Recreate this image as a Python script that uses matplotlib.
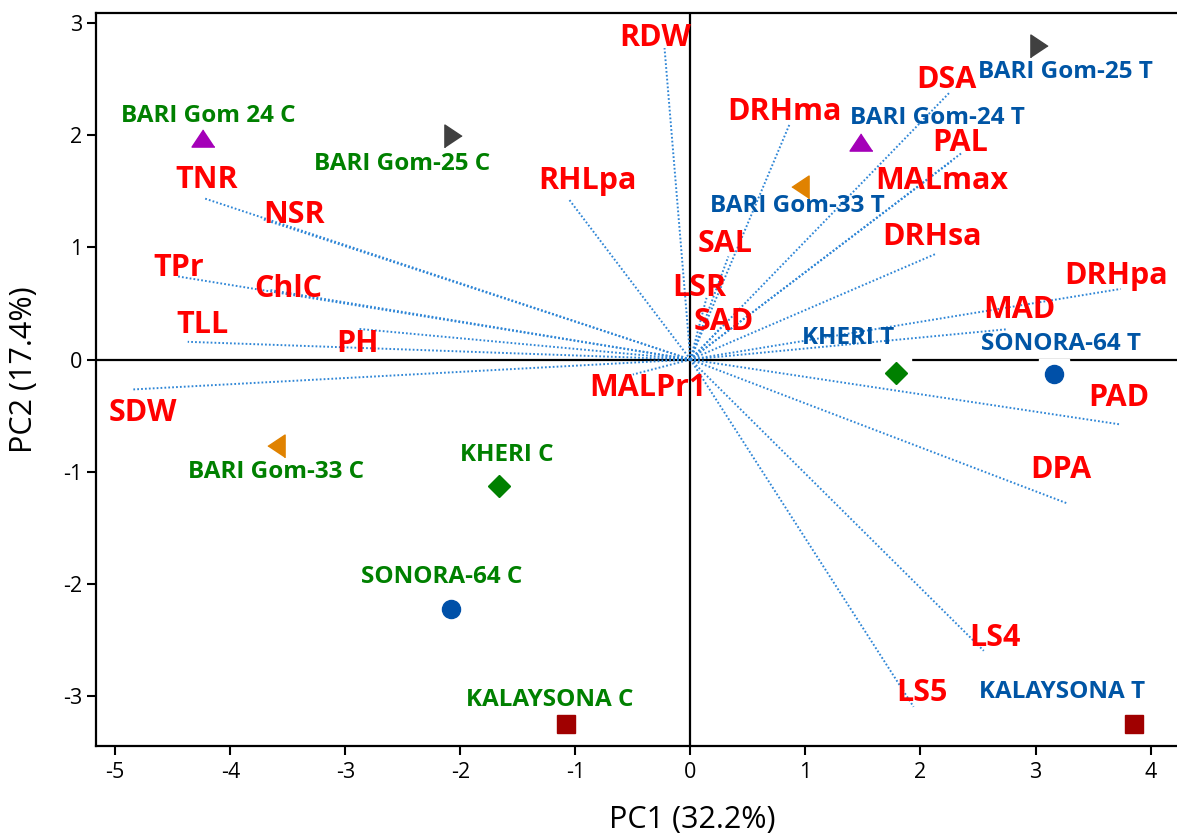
import matplotlib
matplotlib.use("Agg")
import matplotlib.pyplot as plt

plt.rcParams['font.family'] = ['Open Sans', 'DejaVu Sans']
plt.rcParams['axes.unicode_minus'] = False

# Scores of the genotypes (C = control, T = treatment)
obs_names = ["BARI Gom 24 C", "BARI Gom-25 C", "BARI Gom-33 C", "KHERI C",
             "SONORA-64 C", "KALAYSONA C",
             "BARI Gom-24 T", "BARI Gom-25 T", "BARI Gom-33 T", "KHERI T",
             "SONORA-64 T", "KALAYSONA T"]
obs_pc1 = [-4.24, -2.06, -3.60, -1.66, -2.08, -1.08,
           1.48, 3.03, 0.95, 1.79, 3.16, 3.86]
obs_pc2 = [1.975, 1.995, -0.77, -1.127, -2.23, -3.25,
           1.945, 2.80, 1.54, -0.118, -0.132, -3.25]
obs_genotype = ["Gom24", "Gom25", "Gom33", "KHERI", "SONORA", "KALAYSONA",
                "Gom24", "Gom25", "Gom33", "KHERI", "SONORA", "KALAYSONA"]

# Loadings of the traits
var_names = ["TNR", "NSR", "TPr", "ChlC", "TLL", "PH", "SDW", "RHLpa", "RDW",
             "DRHma", "DSA", "PAL", "MALmax", "DRHsa", "DRHpa", "MAD", "PAD",
             "DPA", "LS4", "LS5", "MALPr1", "SAL", "LSR", "SAD"]
var_pc1 = [-4.23, -3.71, -4.47, -3.65, -4.37, -2.89, -4.86, -1.06, -0.225,
           0.866, 2.25, 2.36, 2.27, 2.14, 3.74, 2.75, 3.74,
           3.28, 2.55, 1.94, -0.50, 0.33, 0.14, 0.28]
var_pc2 = [1.44, 1.25, 0.744, 0.62, 0.158, 0.274, -0.268, 1.435, 2.78,
           2.11, 2.38, 1.845, 1.77, 0.946, 0.63, 0.27, -0.58,
           -1.286, -2.60, -3.10, -0.134, 0.92, 0.55, 0.30]

# marker style per genotype
tri_up = [(0, 0.75), (-1, -0.75), (1, -0.75)]
tri_right = [(0.75, 0), (-0.75, 1), (-0.75, -1)]
tri_left = [(-0.75, 0), (0.75, 1), (0.75, -1)]
styles = {
    "Gom24": dict(marker=tri_up, color="#A400B8", ms=16.5),
    "Gom25": dict(marker=tri_right, color="#404040", ms=16.5),
    "Gom33": dict(marker=tri_left, color="#E08200", ms=16.5),
    "KHERI": dict(marker="D", color="#008000", ms=11),
    "SONORA": dict(marker="o", color="#0050A8", ms=13),
    "KALAYSONA": dict(marker="s", color="#A00000", ms=13),
}

# label offsets in points (x right, y up)
obs_offsets = [(4, 16), (-37, -20), (0, -19), (5, 22), (-7, 23), (-12, 17),
               (55, 17), (19, -19), (-2, -14), (-35, 25), (5, 22), (-52, 23)]
var_offsets = {
    "TNR": (2, 13), "NSR": (22, 3), "TPr": (2, 6), "ChlC": (13, 1),
    "TLL": (11, 12), "PH": (0, -11), "SDW": (8, -17), "RHLpa": (14, 13),
    "RDW": (-7, 7), "DRHma": (-4, 8), "DSA": (-2, 9), "PAL": (-1, 7),
    "MALmax": (-7, -14), "DRHsa": (-3, 12), "DRHpa": (-3, 9), "MAD": (9, 14),
    "PAD": (-1, 19), "DPA": (-5, 24), "LS4": (8, 9), "LS5": (6, 10),
    "MALPr1": (11, -10), "SAL": (-2, 9), "LSR": (-5, 7), "SAD": (1, 3),
}

fig = plt.figure(figsize=(11.77, 8.34), dpi=100)
ax = fig.add_axes([0.0813, 0.1055, 0.9187, 0.8785])

# zero reference lines
ax.axhline(0, color="black", lw=1.6, zorder=1)
ax.axvline(0, color="black", lw=1.6, zorder=1)

# loading vectors
for name, x, y in zip(var_names, var_pc1, var_pc2):
    ax.plot([0, x], [0, y], color="#2F86D6", lw=1.4,
            linestyle=(0, (0.9, 1.1)), zorder=2)
    ax.annotate(name, (x, y), xytext=var_offsets[name],
                textcoords="offset points", ha="center", va="center",
                color="#FF0000", fontsize=22, fontweight="bold", zorder=5)

# genotype scores
for name, x, y, g, off in zip(obs_names, obs_pc1, obs_pc2, obs_genotype,
                              obs_offsets):
    st = styles[g]
    ax.plot(x, y, marker="s", ms=21, color="white", ls="none", zorder=1.5)
    ax.plot(x, y, marker=st["marker"], ms=st["ms"], color=st["color"],
            ls="none", zorder=4)
    txt_color = "#008000" if name.endswith(" C") else "#0055A5"
    ax.annotate(name, (x, y), xytext=off, textcoords="offset points",
                ha="center", va="center", color=txt_color, fontsize=17.5,
                fontweight="bold", zorder=5)

ax.set_xlim(-5.17, 4.23)
ax.set_ylim(-3.45, 3.09)
ax.set_xticks(range(-5, 5))
ax.set_yticks(range(-3, 4))
ax.spines["right"].set_visible(False)
for s in ["left", "bottom", "top"]:
    ax.spines[s].set_linewidth(1.6)
ax.tick_params(direction="out", length=6.5, width=1.5, labelsize=15.5)
ax.tick_params(axis="x", pad=5)
ax.tick_params(axis="y", pad=3)

ax.set_xlabel("PC1 (32.2%)", fontsize=22)
ax.set_ylabel("PC2 (17.4%)", fontsize=22)
ax.xaxis.set_label_coords(0.5515, -0.080)
ax.yaxis.set_label_coords(-0.052, 0.513)

fig.savefig("out.png", dpi=100)
